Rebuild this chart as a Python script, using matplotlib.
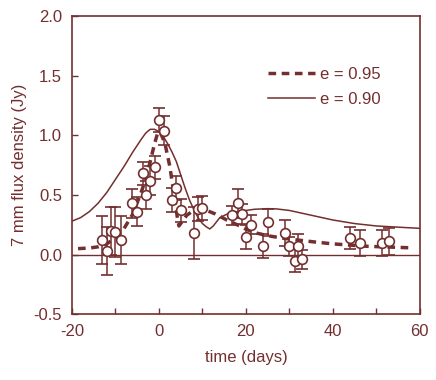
import matplotlib
matplotlib.use('Agg')
import matplotlib.pyplot as plt

plt.rcParams['font.family'] = ['Liberation Sans', 'DejaVu Sans']
plt.rcParams['axes.unicode_minus'] = False

col = '#732f2f'

# observed 7 mm points
t_obs = [-13.0, -11.9, -11.1, -10.0, -8.8, -6.1, -5.1, -3.75, -3.0, -2.1, -1.0,
         0.0, 1.15, 3.06, 3.9, 5.0, 8.05, 9.0, 10.0, 16.9, 18.1, 19.0, 20.0,
         21.1, 24.0, 25.0, 29.0, 30.0, 31.3, 31.9, 33.0, 43.9, 46.2, 51.2, 52.9]
flux_obs = [0.12, 0.03, 0.20, 0.19, 0.12, 0.43, 0.36, 0.68, 0.50, 0.62, 0.73,
            1.13, 1.04, 0.46, 0.56, 0.37, 0.18, 0.38, 0.39, 0.33, 0.43, 0.34, 0.15,
            0.25, 0.07, 0.27, 0.18, 0.07, -0.05, 0.07, -0.04, 0.14, 0.10, 0.10, 0.11]
err_obs = [0.20, 0.20, 0.20, 0.21, 0.20, 0.12, 0.12, 0.10, 0.12, 0.12, 0.10,
           0.10, 0.12, 0.10, 0.10, 0.10, 0.22, 0.10, 0.10, 0.08, 0.12, 0.08, 0.10,
           0.08, 0.10, 0.11, 0.11, 0.08, 0.10, 0.10, 0.08, 0.09, 0.11, 0.11, 0.11]

# model e = 0.95
t_95 = [-18.6, -16, -14, -12, -10, -8, -6, -4, -3, -2, -1, -0.2, 0.5, 1.4,
        2.5, 3.5, 4.2, 4.6, 5.2, 6.4, 8, 9.5, 11, 13, 15.6, 18, 20.2, 22.5,
        24.8, 28, 32.4, 36, 40, 47.7, 58.5]
f_95 = [0.05, 0.055, 0.065, 0.09, 0.14, 0.22, 0.34, 0.53, 0.64, 0.78, 0.93,
        1.03, 1.01, 0.93, 0.74, 0.50, 0.32, 0.24, 0.27, 0.33, 0.37, 0.38, 0.37,
        0.34, 0.29, 0.25, 0.21, 0.18, 0.16, 0.14, 0.12, 0.105, 0.09, 0.07, 0.056]

# model e = 0.90
t_90 = [-20, -18, -16, -14, -12, -10, -8, -6, -4, -3, -2, -1, 0, 1, 2, 3, 4,
        5, 6, 7, 8, 9, 10, 11, 11.7, 12.5, 14, 16, 18, 20, 22, 25, 27, 30,
        35, 40, 45, 50, 55, 60]
f_90 = [0.28, 0.31, 0.36, 0.43, 0.52, 0.63, 0.74, 0.86, 0.97, 1.02, 1.05,
        1.05, 1.03, 0.99, 0.93, 0.86, 0.78, 0.67, 0.56, 0.46, 0.38, 0.31,
        0.26, 0.23, 0.215, 0.24, 0.31, 0.345, 0.36, 0.37, 0.38, 0.385, 0.383,
        0.37, 0.33, 0.29, 0.26, 0.24, 0.23, 0.22]

fig, ax = plt.subplots(figsize=(4.36, 3.8), dpi=100)
fig.subplots_adjust(left=0.165, right=0.963, top=0.958, bottom=0.173)

ax.axhline(0, color=col, lw=1.0)
ax.plot(t_95, f_95, color=col, lw=2.5, ls=(0, (2.2, 1.6)), label='e = 0.95')
ax.plot(t_90, f_90, color=col, lw=1.1, label='e = 0.90')
ax.errorbar(t_obs, flux_obs, yerr=err_obs, fmt='o', color=col, mfc='white',
            mec=col, ms=7, mew=1.2, elinewidth=1.1, capsize=4.5, capthick=1.1)

ax.set_xlim(-20, 60)
ax.set_ylim(-0.5, 2.0)
ax.set_xticks(range(-20, 61, 10))
ax.set_xticklabels(['-20', '', '0', '', '20', '', '40', '', '60'])
ax.set_yticks([-0.5, 0.0, 0.5, 1.0, 1.5, 2.0])
ax.set_yticklabels(['-0.5', '0.0', '0.5', '1.0', '1.5', '2.0'])
ax.tick_params(direction='in', colors=col, labelcolor=col, labelsize=12,
               length=4, width=1, pad=7)
for s in ax.spines.values():
    s.set_color(col)
    s.set_linewidth(1.2)

ax.set_xlabel('time (days)', color=col, fontsize=12, labelpad=8)
ax.set_ylabel('7 mm flux density (Jy)', color=col, fontsize=12, labelpad=5)

leg = ax.legend(loc='upper left', bbox_to_anchor=(0.52, 0.88), frameon=False,
                fontsize=12, handlelength=2.8, handletextpad=0.3,
                labelspacing=0.6, labelcolor=col)

fig.savefig('out.png', dpi=100)
